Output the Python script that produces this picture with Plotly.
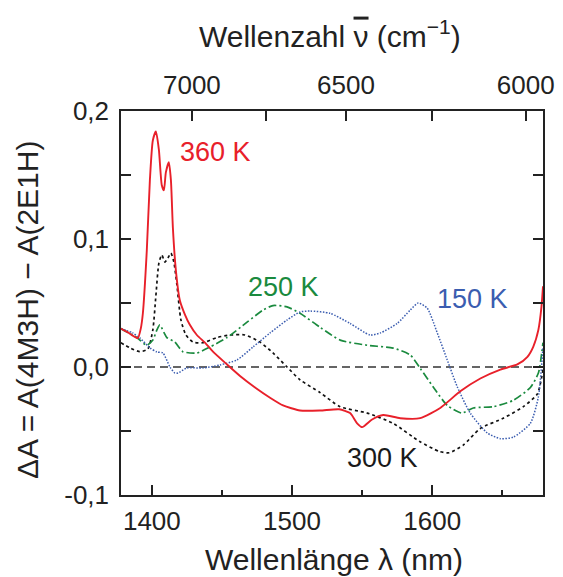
import plotly.graph_objects as go

# ---- data ----
wl_360 = [1377.9,1382.9,1387.1,1390.0,1392.1,1393.6,1396.4,1398.6,1400.7,1402.9,1405.0,1407.1,1408.6,1410.0,1412.1,1413.6,1415.0,1417.1,1420.0,1423.6,1427.1,1432.1,1437.9,1443.6,1453.6,1462.9,1473.6,1484.3,1493.6,1505.7,1520.0,1533.6,1541.4,1546.4,1550.0,1557.1,1565.0,1577.1,1591.4,1605.7,1620.0,1634.3,1648.6,1660.7,1667.9,1672.1,1675.7,1677.9,1679.0]
dA_360 = [0.030,0.027,0.024,0.0225,0.030,0.042,0.091,0.146,0.177,0.184,0.170,0.142,0.138,0.152,0.160,0.146,0.109,0.076,0.052,0.041,0.033,0.025,0.019,0.012,0.002,-0.007,-0.016,-0.024,-0.030,-0.034,-0.034,-0.033,-0.036,-0.044,-0.047,-0.041,-0.0375,-0.040,-0.040,-0.032,-0.019,-0.009,-0.002,0.002,0.008,0.016,0.029,0.047,0.063]

wl_300 = [1377.9,1384.3,1391.4,1397.1,1400.7,1402.9,1405.0,1407.1,1409.3,1411.4,1413.6,1415.7,1417.9,1420.7,1424.3,1429.3,1436.4,1446.4,1455.7,1466.4,1477.1,1486.4,1496.4,1505.7,1520.0,1534.3,1553.6,1572.1,1590.7,1605.0,1612.1,1622.1,1634.3,1650.7,1665.0,1675.0,1679.0]
dA_300 = [0.019,0.015,0.012,0.014,0.029,0.056,0.081,0.0875,0.082,0.085,0.089,0.082,0.064,0.037,0.025,0.0195,0.019,0.023,0.025,0.025,0.0195,0.011,0.0,-0.010,-0.020,-0.031,-0.036,-0.044,-0.058,-0.066,-0.067,-0.061,-0.048,-0.040,-0.031,-0.021,-0.002]

wl_250 = [1377.9,1389.3,1396.4,1400.7,1403.6,1405.7,1408.6,1410.7,1416.4,1422.1,1432.1,1441.4,1453.6,1467.9,1479.3,1486.4,1496.4,1505.7,1520.0,1534.3,1553.6,1572.1,1584.3,1591.4,1600.7,1610.7,1621.0,1629.3,1643.6,1657.9,1670.0,1675.7,1679.0]
dA_250 = [0.030,0.023,0.017,0.021,0.029,0.033,0.027,0.023,0.0195,0.012,0.011,0.0156,0.023,0.035,0.0445,0.048,0.047,0.042,0.031,0.021,0.017,0.0148,0.0094,-0.001,-0.0156,-0.030,-0.036,-0.032,-0.031,-0.026,-0.016,-0.0047,0.019]

wl_150 = [1377.9,1386.4,1391.4,1398.6,1403.6,1407.9,1412.9,1416.4,1418.6,1425.0,1436.4,1448.6,1460.7,1472.1,1484.3,1496.4,1505.7,1512.9,1527.1,1541.4,1555.7,1562.9,1575.0,1584.3,1590.0,1596.4,1603.6,1610.7,1617.9,1627.1,1639.3,1648.6,1657.9,1670.0,1675.7,1679.0]
dA_150 = [0.030,0.0266,0.0227,0.015,0.0117,0.011,0.0,-0.0047,-0.0047,-0.0008,-0.0008,0.0016,0.0055,0.0156,0.0266,0.0367,0.043,0.0437,0.042,0.034,0.025,0.0266,0.034,0.0445,0.050,0.046,0.0266,0.0055,-0.0156,-0.036,-0.0516,-0.056,-0.0547,-0.044,-0.0234,0.0156]

x_ticks = [1400, 1500, 1600]
y_ticks = [-0.1, 0.0, 0.1, 0.2]
y_ticktext = ["-0,1", "0,0", "0,1", "0,2"]
wn_major = [7000, 6500, 6000]
wn_major_text = ["7000", "6500", "6000"]
wn_minor = [6750, 6250]

X_RANGE = [1378, 1679]
Y_RANGE = [-0.1, 0.2]

FONT = "Liberation Sans, Arial, sans-serif"
AX = "#222222"

fig = go.Figure()
fig.add_trace(go.Scatter(x=wl_300, y=dA_300, mode="lines", name="300 K",
                         line=dict(color="#111111", width=1.7, dash="3px,3px", shape="spline", smoothing=0.6)))
fig.add_trace(go.Scatter(x=wl_250, y=dA_250, mode="lines", name="250 K",
                         line=dict(color="#1a8a3e", width=1.7, dash="8px,3px,2px,3px", shape="spline", smoothing=0.6)))
fig.add_trace(go.Scatter(x=wl_150, y=dA_150, mode="lines", name="150 K",
                         line=dict(color="#3b5db0", width=1.5, dash="1.5px,1.5px", shape="spline", smoothing=0.6)))
fig.add_trace(go.Scatter(x=wl_360, y=dA_360, mode="lines", name="360 K",
                         line=dict(color="#e8202a", width=1.9, shape="spline", smoothing=0.6)))
# invisible trace to anchor the top (wavenumber) axis
fig.add_trace(go.Scatter(x=X_RANGE, y=[0, 0], xaxis="x2", mode="lines",
                         line=dict(width=0), hoverinfo="skip", showlegend=False))

fig.add_shape(type="line", xref="paper", yref="y", x0=0, x1=1, y0=0, y1=0,
              line=dict(color="#333333", width=1.5, dash="8px,5px"), layer="below")

ann = [
    dict(text="360 K", x=1445.7, y=0.168, color="#e8202a"),
    dict(text="250 K", x=1493.6, y=0.0625, color="#1a8a3e"),
    dict(text="150 K", x=1628.6, y=0.0531, color="#3b5db0"),
    dict(text="300 K", x=1564.3, y=-0.0711, color="#1a1a1a"),
]
for a in ann:
    fig.add_annotation(text=a["text"], x=a["x"], y=a["y"], xref="x", yref="y",
                       showarrow=False, font=dict(size=27, color=a["color"], family=FONT))

# axis titles as paper annotations for exact placement
TITLE_SIZE = 30
fig.add_annotation(text="Wellenlänge λ (nm)", xref="paper", yref="paper", x=0.505, y=-0.168,
                   xanchor="center", yanchor="middle", showarrow=False,
                   font=dict(size=TITLE_SIZE, color=AX, family=FONT))
fig.add_annotation(text="Wellenzahl <span style='text-decoration:overline'>ν</span> (cm<sup>−1</sup>)",
                   xref="paper", yref="paper", x=0.495, y=1.2,
                   xanchor="center", yanchor="middle", showarrow=False,
                   font=dict(size=TITLE_SIZE, color=AX, family=FONT))
fig.add_annotation(text="ΔA = A(4M3H) − A(2E1H)", xref="paper", yref="paper", x=-0.22, y=0.482,
                   xanchor="center", yanchor="middle", textangle=-90, showarrow=False,
                   font=dict(size=TITLE_SIZE, color=AX, family=FONT))

# The page body adds an 8px offset; compensate so the plot frame lands where the reference has it.
fig.update_layout(
    width=555, height=569,
    margin=dict(l=113, r=20, t=103, b=82, autoexpand=False),
    paper_bgcolor="white", plot_bgcolor="white",
    showlegend=False,
    font=dict(family=FONT, size=26, color=AX),
    xaxis=dict(range=X_RANGE, tickvals=x_ticks, ticks="inside", ticklen=10, tickwidth=1.5,
               tickcolor=AX, showline=True, linecolor=AX, linewidth=1.5,
               showgrid=False, zeroline=False, mirror=False, automargin=False,
               ticklabelstandoff=2,
               minor=dict(ticks="inside", dtick=50, tick0=1400, ticklen=5, tickwidth=1.5, tickcolor=AX),
               tickfont=dict(size=26)),
    xaxis2=dict(range=X_RANGE, overlaying="x", side="top", anchor="y",
                tickvals=[1e7 / w for w in wn_major], ticktext=wn_major_text,
                ticks="inside", ticklen=10, tickwidth=1.5, tickcolor=AX,
                ticklabelstandoff=5,
                minor=dict(tickvals=[1e7 / w for w in wn_minor], ticks="inside", ticklen=10,
                           tickwidth=1.5, tickcolor=AX),
                showline=True, linecolor=AX, linewidth=1.5, automargin=False,
                showgrid=False, zeroline=False, tickfont=dict(size=26)),
    yaxis=dict(range=Y_RANGE, tickvals=y_ticks, ticktext=y_ticktext, ticks="inside",
               ticklen=10, tickwidth=1.5, tickcolor=AX, automargin=False,
               ticklabelstandoff=5,
               showline=True, linecolor=AX, linewidth=1.5, mirror="ticks",
               showgrid=False, zeroline=False,
               minor=dict(ticks="inside", dtick=0.05, tick0=0, ticklen=10, tickwidth=1.5, tickcolor=AX),
               tickfont=dict(size=26)),
)

fig.write_html("out.html")
